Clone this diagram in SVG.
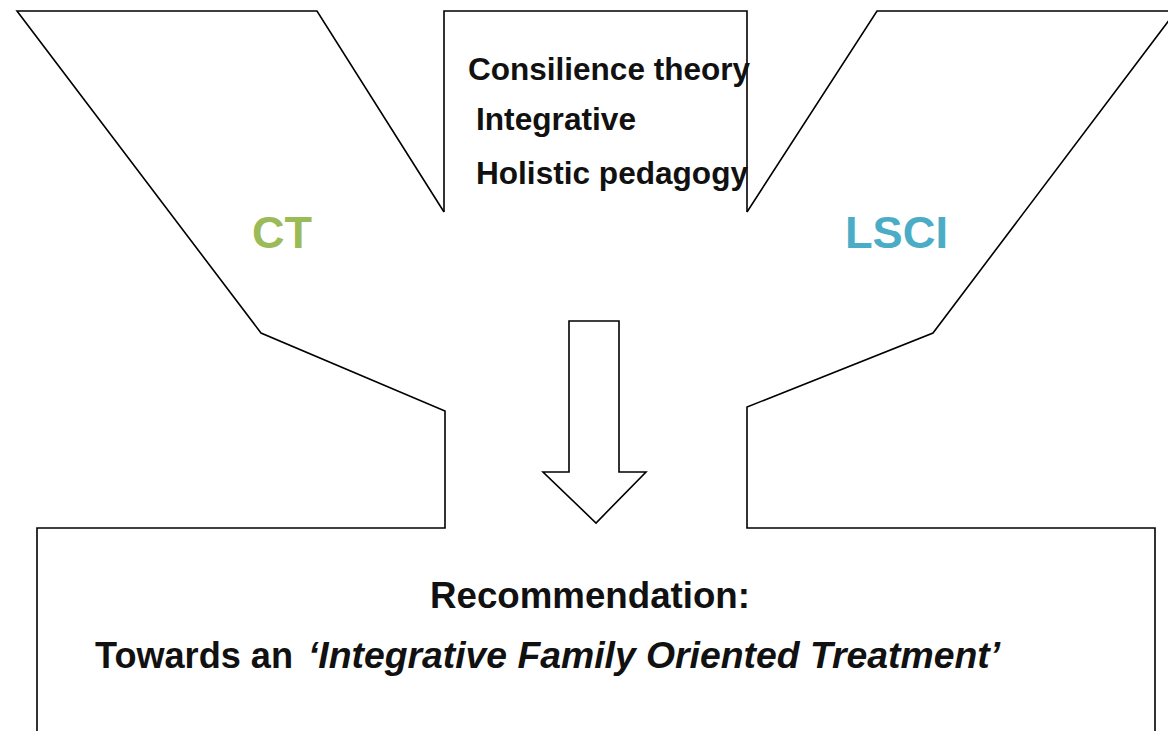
<svg xmlns="http://www.w3.org/2000/svg" width="1168" height="731" viewBox="0 0 1168 731">
  <style>
    .outline { fill: none; stroke: #000; stroke-width: 1.6; stroke-linejoin: miter; }
    .arrow { fill: #fff; stroke: #000; stroke-width: 1.6; }
    .lbl { font-family: "Liberation Sans", Arial, sans-serif; font-weight: bold; fill: #111; }
    .big { font-family: "Liberation Sans", Arial, sans-serif; font-weight: bold; font-size: 45px; }
  </style>
  <rect x="0" y="0" width="1168" height="731" fill="#fff"/>
  <g id="left-funnel">
    <path class="outline" d="M444,212 L317,11 L17,11 L261,333 L445,411 L445,528 L37,528 L37,740"/>
    <text class="big" x="252" y="248" fill="#9BBB59" textLength="60" lengthAdjust="spacingAndGlyphs">CT</text>
  </g>
  <g id="center-box">
    <path class="outline" d="M444,212 L444,11 L747,11 L747,212"/>
    <text class="lbl" x="468" y="80" font-size="31" textLength="282" lengthAdjust="spacingAndGlyphs">Consilience theory</text>
    <text class="lbl" x="476" y="130" font-size="31" textLength="160" lengthAdjust="spacingAndGlyphs">Integrative</text>
    <text class="lbl" x="476" y="184" font-size="31" textLength="272" lengthAdjust="spacingAndGlyphs">Holistic pedagogy</text>
  </g>
  <g id="right-funnel">
    <path class="outline" d="M747,212 L877,11 L1176,11 L933,333 L747,407 L747,528 L1155,528 L1155,740"/>
    <text class="big" x="845" y="248" fill="#4BACC6" textLength="103" lengthAdjust="spacingAndGlyphs">LSCI</text>
  </g>
  <g id="recommendation">
    <text class="lbl" x="430" y="608" font-size="36" textLength="320" lengthAdjust="spacingAndGlyphs">Recommendation:</text>
    <text class="lbl" x="95" y="668" font-size="36" textLength="198" lengthAdjust="spacingAndGlyphs">Towards an</text>
    <text class="lbl" x="308" y="668" font-size="36" font-style="italic" textLength="692" lengthAdjust="spacingAndGlyphs">‘Integrative Family Oriented Treatment’</text>
  </g>
  <g id="connectors">
    <polygon class="arrow" points="569,321 619,321 619,472 646,472 596,523 543,472 569,472"/>
  </g>
</svg>
